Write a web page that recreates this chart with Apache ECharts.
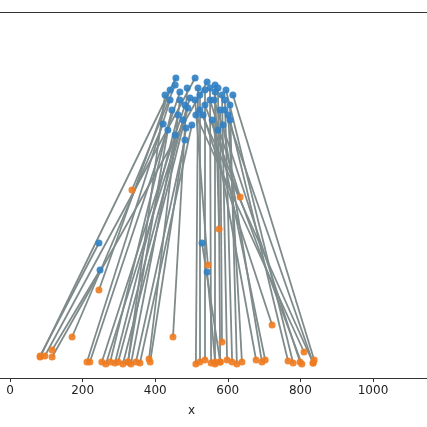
<!DOCTYPE html>
<html><head><meta charset="utf-8">
<script src="https://cdn.jsdelivr.net/npm/echarts@6/dist/echarts.min.js"></script>
<style>html,body{margin:0;background:#fff}#c{width:427px;height:427px}</style>
</head><body><div id="c"></div>
<script>
// start points (blue) and end points (orange) of each segment
const x1 = [457,510,543,422,245,248,441,468,482,496,446,463,477,490,435,455,482,501,468,488,518,523,537,551,565,573,584,592,606,601,579,557,587,573,532,606,595,562,537,523,512,614,455,551,592,529,510,565,441,543,485,427];
const y1 = [300,300,296,254,135,108,278,286,273,280,268,263,258,270,248,243,238,253,278,290,290,283,288,290,286,290,283,278,273,263,268,258,253,248,263,258,288,278,273,268,263,283,293,278,268,135,278,293,288,106,250,283];
const x2 = [83,96,116,171,83,116,212,220,253,264,276,289,298,311,325,333,347,358,383,449,512,523,537,554,565,579,598,612,625,639,584,678,694,703,722,766,780,799,804,835,810,838,336,634,835,579,545,576,245,565,386,325];
const y2 = [21,22,21,41,22,28,16,16,16,14,16,15,16,14,16,14,16,15,19,41,14,16,18,15,14,16,18,16,14,16,36,18,16,18,53,17,15,16,14,15,26,18,188,181,15,16,113,149,88,16,16,16];

const chart = echarts.init(document.getElementById('c'));
const segs = x1.map((v, i) => ({coords: [[v, y1[i]], [x2[i], y2[i]]]}));

chart.setOption({
  animation: false,
  grid: {left: -62.6, right: -18.6, top: 12, bottom: 49, outerBoundsMode: 'none', containLabel: false},
  xAxis: [{
    type: 'value', min: -200, max: 1200, interval: 200,
    name: 'x', nameLocation: 'middle', nameGap: 27,
    nameTextStyle: {color: '#222', fontSize: 12, fontFamily: 'DejaVu Sans'},
    axisLine: {lineStyle: {color: '#333', width: 1}},
    axisTick: {length: 4, lineStyle: {color: '#333'}},
    axisLabel: {color: '#222', fontSize: 12, fontFamily: 'DejaVu Sans', margin: 7, formatter: v => String(v)},
    splitLine: {show: false}
  }, {
    type: 'value', position: 'top', min: -200, max: 1200,
    axisLine: {onZero: false, lineStyle: {color: '#333', width: 1}},
    axisTick: {show: false}, axisLabel: {show: false}, splitLine: {show: false}
  }],
  yAxis: {type: 'value', min: 0, max: 366, show: false},
  series: [{
    type: 'lines', coordinateSystem: 'cartesian2d', data: segs,
    lineStyle: {color: '#7f8b8b', width: 1.8, opacity: 1}, z: 2
  }, {
    type: 'scatter', data: x2.map((v, i) => [v, y2[i]]),
    symbolSize: 7, itemStyle: {color: '#ef7b1f', opacity: 0.9}, z: 3
  }, {
    type: 'scatter', data: x1.map((v, i) => [v, y1[i]]),
    symbolSize: 7, itemStyle: {color: '#2f80c4', opacity: 0.9}, z: 4
  }]
});
</script></body></html>
